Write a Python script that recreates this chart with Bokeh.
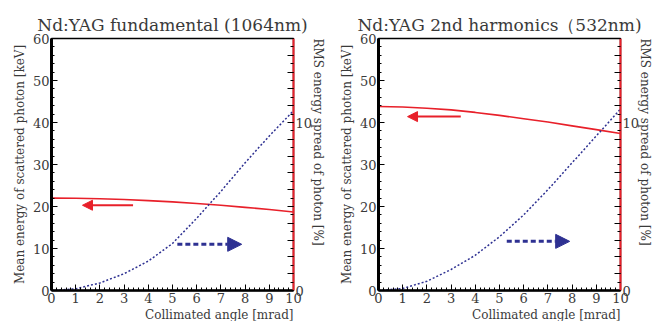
import math
from bokeh.plotting import figure
from bokeh.layouts import row
from bokeh.models import Range1d, LinearAxis, FixedTicker, Arrow, NormalHead, Title, ColumnDataSource
from bokeh.embed import file_html
from bokeh.resources import INLINE

# ---- data ----
angle = [0, 1, 2, 3, 4, 5, 6, 7, 8, 9, 10]  # mrad

fund_mean_keV = [22.0, 21.95, 21.85, 21.65, 21.4, 21.1, 20.7, 20.3, 19.8, 19.3, 18.7]
fund_rms_pct = [0.0, 0.1, 0.45, 1.0, 1.75, 2.8, 4.3, 5.9, 7.6, 9.2, 10.7]

shg_mean_keV = [43.8, 43.7, 43.4, 43.0, 42.4, 41.7, 40.9, 40.1, 39.2, 38.3, 37.4]
shg_rms_pct = [0.0, 0.12, 0.55, 1.25, 2.1, 3.2, 4.5, 6.0, 7.6, 9.2, 10.8]

# arrow annotations: (x_start, x_end, y on left axis)
fund_red_arrow = (3.37, 1.28, 20.3)
fund_blue_arrow = (5.2, 7.86, 11.0)
shg_red_arrow = (3.4, 1.2, 41.4)
shg_blue_arrow = (5.3, 7.9, 11.7)

titles = ["Nd:YAG fundamental (1064nm)", "Nd:YAG 2nd harmonics\uff08532nm)"]
x_label = "Collimated angle [mrad]"
y_label = "Mean energy of scattered photon [keV]"
y2_label = "RMS energy spread of photon [%]"

x_ticks = [0, 1, 2, 3, 4, 5, 6, 7, 8, 9, 10]
y_ticks = [0, 10, 20, 30, 40, 50, 60]
y2_ticks = [0, 1, 2, 3, 4, 5, 6, 7, 8, 9, 10, 11, 12, 13, 14, 15]
y2_labels = {t: "" for t in y2_ticks}
y2_labels[0] = "0"
y2_labels[10] = "10"

RED = "#e8202a"
BLUE = "#2e3192"
TXT = "#3a3a3a"
FONT = "DejaVu Serif"


def style_axis(ax):
    ax.major_label_text_font = FONT
    ax.major_label_text_font_size = "13px"
    ax.major_label_text_color = TXT
    ax.axis_label_text_font = FONT
    ax.axis_label_text_font_size = "12px"
    ax.axis_label_text_font_style = "normal"
    ax.axis_label_text_color = TXT
    ax.major_tick_in = 6
    ax.major_tick_out = 0
    ax.minor_tick_in = 3
    ax.minor_tick_out = 0
    ax.major_tick_line_color = "black"
    ax.minor_tick_line_color = "black"
    ax.major_label_standoff = 2
    ax.axis_label_standoff = 3


def panel(title, mean, rms, red_arrow, blue_arrow, w, bl, br):
    p = figure(width=w, height=321, x_range=Range1d(0, 10), y_range=Range1d(0, 60),
               output_backend="svg", toolbar_location=None,
               min_border_left=bl, min_border_right=br, min_border_top=38, min_border_bottom=16)
    p.extra_y_ranges = {"rms": Range1d(0, 15)}
    p.grid.visible = False
    p.background_fill_color = "white"
    p.outline_line_color = "black"
    p.outline_line_width = 1.5
    p.outline_line_alpha = 1

    t = Title(text=title, align="center", text_font=FONT, text_font_size="17px",
              text_font_style="normal", text_color=TXT, standoff=7)
    p.add_layout(t, "above")

    xa = p.xaxis[0]
    xa.ticker = FixedTicker(ticks=x_ticks, minor_ticks=[i * 0.2 for i in range(51)])
    xa.axis_line_width = 2.5
    style_axis(xa)
    xt = Title(text=x_label, align="right", text_font=FONT, text_font_size="12px",
               text_font_style="normal", text_color=TXT, standoff=0)
    p.add_layout(xt, "below")

    ya = p.yaxis[0]
    ya.ticker = FixedTicker(ticks=y_ticks, minor_ticks=list(range(0, 61, 2)))
    ya.axis_label = y_label
    ya.axis_line_width = 3
    style_axis(ya)

    ra = LinearAxis(y_range_name="rms", axis_label=y2_label)
    ra.ticker = FixedTicker(ticks=y2_ticks, minor_ticks=[i * 0.5 for i in range(31)])
    ra.major_label_overrides = y2_labels
    ra.axis_line_color = RED
    ra.axis_line_width = 2
    style_axis(ra)
    ra.axis_label_orientation = -math.pi / 2
    ra.axis_label_align = "end"
    ra.axis_label_text_align = "left"
    p.add_layout(ra, "right")

    src = ColumnDataSource(dict(x=angle, mean=mean, rms=rms))
    p.line("x", "mean", source=src, line_color=RED, line_width=1.6)
    p.line("x", "rms", source=src, y_range_name="rms", line_color=BLUE, line_width=1.5,
           line_dash="2 2")

    p.add_layout(Arrow(x_start=red_arrow[0], x_end=red_arrow[1], y_start=red_arrow[2], y_end=red_arrow[2],
                       line_color=RED, line_width=2,
                       end=NormalHead(size=10, fill_color=RED, line_color=RED, line_width=1)))
    p.add_layout(Arrow(x_start=blue_arrow[0], x_end=blue_arrow[1], y_start=blue_arrow[2], y_end=blue_arrow[2],
                       line_color=BLUE, line_width=3, line_dash="5 3",
                       end=NormalHead(size=14, fill_color=BLUE, line_color=BLUE, line_width=1)))
    return p


p1 = panel(titles[0], fund_mean_keV, fund_rms_pct, fund_red_arrow, fund_blue_arrow, 335, 51, 41)
p2 = panel(titles[1], shg_mean_keV, shg_rms_pct, shg_red_arrow, shg_blue_arrow, 327, 43, 41)

lay = row(p1, p2)
open("out.html", "w").write(file_html(lay, INLINE))
